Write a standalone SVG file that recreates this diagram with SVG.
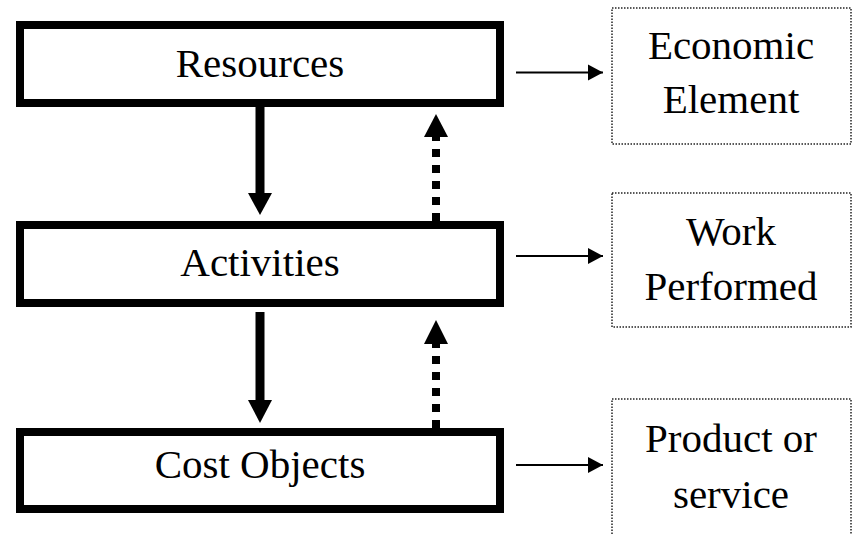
<svg xmlns="http://www.w3.org/2000/svg" width="852" height="534" viewBox="0 0 852 534">
<style>
.main{fill:#fff;stroke:#000;stroke-width:8}
.side{fill:#fff;stroke:#222;stroke-width:1.5;stroke-dasharray:1.5 1.5}
.t{font-family:"Liberation Serif","Times New Roman",serif;font-size:41px;fill:#000;text-anchor:middle}
.down{stroke:#000;stroke-width:9;fill:none}
.up{stroke:#000;stroke-width:8;stroke-dasharray:8 8;fill:none}
.right{stroke:#000;stroke-width:2;fill:none}
</style>
<defs>
<marker id="ah" markerUnits="userSpaceOnUse" markerWidth="16" markerHeight="18" refX="15" refY="9" orient="auto"><path d="M0,1 L15,9 L0,17 Z" fill="#000"/></marker>
</defs>
<rect width="852" height="534" fill="#fff"/>
<g id="connectors">
<line class="down" x1="260" y1="107" x2="260" y2="194"/>
<polygon points="248,193 272,193 260,215"/>
<line class="down" x1="260" y1="312" x2="260" y2="401"/>
<polygon points="248,400 272,400 260,423"/>
<line class="up" x1="436" y1="221" x2="436" y2="137"/>
<polygon points="424,137 448,137 436,114"/>
<line class="up" x1="436" y1="428" x2="436" y2="344"/>
<polygon points="424,344 448,344 436,320"/>
<line class="right" x1="516" y1="72.5" x2="603" y2="72.5" marker-end="url(#ah)"/>
<line class="right" x1="516" y1="256" x2="603" y2="256" marker-end="url(#ah)"/>
<line class="right" x1="516" y1="465" x2="603" y2="465" marker-end="url(#ah)"/>
</g>
<g id="resources"><rect class="main" x="20" y="25" width="480" height="78"/><text class="t" x="260" y="77">Resources</text></g>
<g id="activities"><rect class="main" x="20" y="225" width="480" height="78"/><text class="t" x="260" y="276">Activities</text></g>
<g id="cost-objects"><rect class="main" x="20" y="432" width="480" height="77"/><text class="t" x="260" y="478">Cost Objects</text></g>
<g id="economic-element"><rect class="side" x="612" y="8" width="239" height="136"/><text class="t" x="731" y="59">Economic</text><text class="t" x="731" y="113">Element</text></g>
<g id="work-performed"><rect class="side" x="612" y="193" width="239" height="134"/><text class="t" x="731" y="245">Work</text><text class="t" x="731" y="300">Performed</text></g>
<g id="product-service"><rect class="side" x="612" y="399" width="239" height="145"/><text class="t" x="731" y="452">Product or</text><text class="t" x="731" y="508">service</text></g>
</svg>
